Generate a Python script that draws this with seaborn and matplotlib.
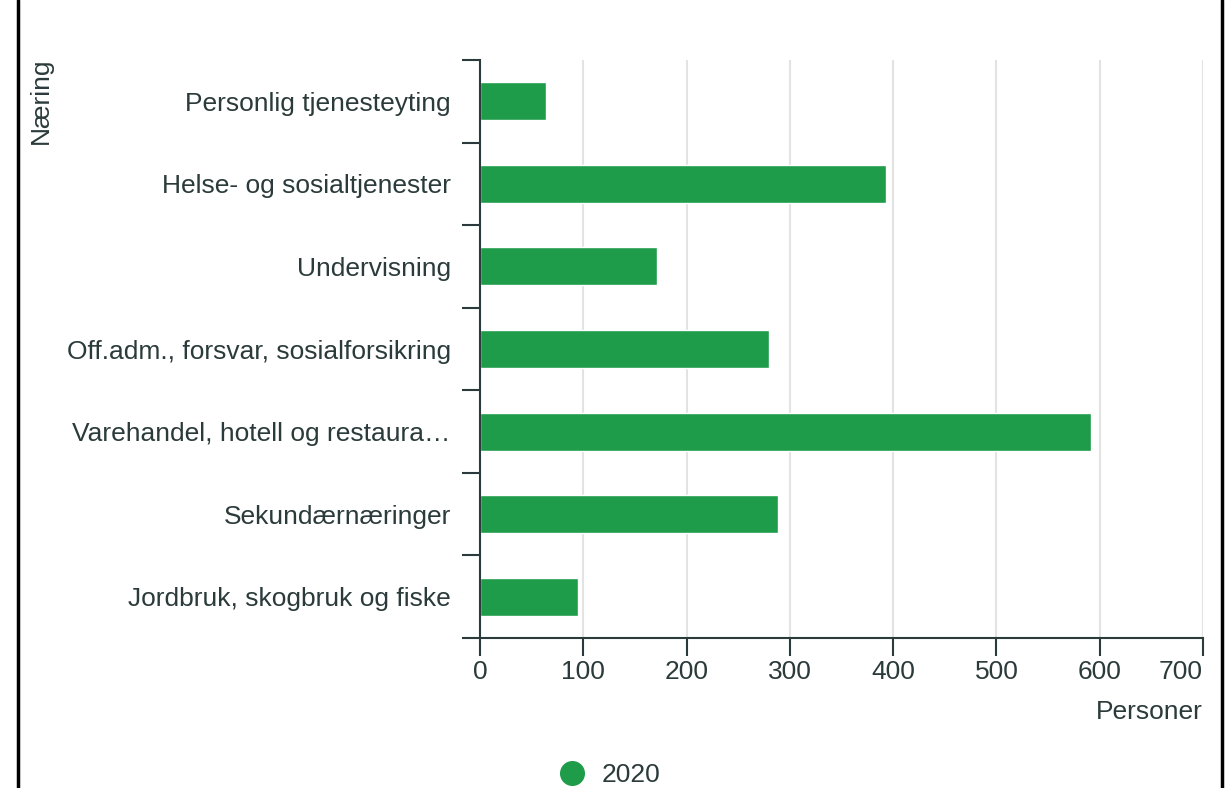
import numpy as np
import matplotlib
matplotlib.use("Agg")
import matplotlib.pyplot as plt
from matplotlib.lines import Line2D
from matplotlib.ticker import FixedLocator
import seaborn as sns

categories = [
    "Personlig tjenesteyting",
    "Helse- og sosialtjenester",
    "Undervisning",
    "Off.adm., forsvar, sosialforsikring",
    "Varehandel, hotell og restaura\u2026",
    "Sekundærnæringer",
    "Jordbruk, skogbruk og fiske",
]
values = [64, 393, 171, 280, 592, 289, 95]
series_name = "2020"
x_ticks = [0, 100, 200, 300, 400, 500, 600, 700]

green = "#1f9c4a"
ink = "#2b3a3a"
grid = "#e3e3e3"
fs = 19

sns.set_theme(style="white")
plt.rcParams["font.family"] = ["Liberation Sans", "DejaVu Sans"]

fig = plt.figure(figsize=(12.27, 7.88), dpi=100)
ax = fig.add_axes([480 / 1227, 1 - 638 / 788, 723 / 1227, 578 / 788])

sns.barplot(x=values, y=categories, orient="h", color=green, width=0.46,
            saturation=1, ax=ax)

ax.set_xlim(0, 700)
ax.set_ylim(len(categories) - 0.5, -0.5)
ax.set_xticks(x_ticks)
ax.set_xticklabels([str(t) for t in x_ticks], fontsize=fs, color=ink)
# keep the last label inside the plot edge
ax.get_xticklabels()[-1].set_horizontalalignment("right")
ax.xaxis.grid(True, color=grid, linewidth=1.5)
ax.set_axisbelow(True)

# category labels centred, tick marks on the band borders
ax.tick_params(axis="y", which="major", left=True, length=0, pad=21,
               labelsize=fs, labelcolor=ink)
ax.yaxis.set_minor_locator(FixedLocator(np.arange(-0.5, len(categories), 1)))
ax.tick_params(axis="y", which="minor", left=True, length=13, width=1.5,
               color=ink)
ax.tick_params(axis="x", which="major", bottom=True, length=13, width=1.5,
               color=ink, pad=3)

for s in ["top", "right"]:
    ax.spines[s].set_visible(False)
for s in ["left", "bottom"]:
    ax.spines[s].set_color(ink)
    ax.spines[s].set_linewidth(1.5)

ax.set_xlabel("")
ax.set_ylabel("")
fig.text(1203 / 1227, 1 - 712 / 788, "Personer", ha="right", va="center",
         fontsize=fs, color=ink)
fig.text(41 / 1227, 1 - 58 / 788, "Næring", rotation=90, ha="center",
         va="top", fontsize=fs, color=ink)

handle = Line2D([], [], marker="o", linestyle="", markersize=17,
                markerfacecolor=green, markeredgecolor=green)
fig.legend([handle], [series_name], loc="center left",
           bbox_to_anchor=(522 / 1227, 1 - 775 / 788), frameon=False,
           fontsize=fs, labelcolor=ink, handletextpad=0.1)

# frame lines at the sides of the picture
fig.add_artist(Line2D([18 / 1227, 18 / 1227], [0, 1], color="black",
                      linewidth=2.5, transform=fig.transFigure))
fig.add_artist(Line2D([1222 / 1227, 1222 / 1227], [0, 1], color="black",
                      linewidth=2.5, transform=fig.transFigure))

fig.savefig("out.png", dpi=100)
